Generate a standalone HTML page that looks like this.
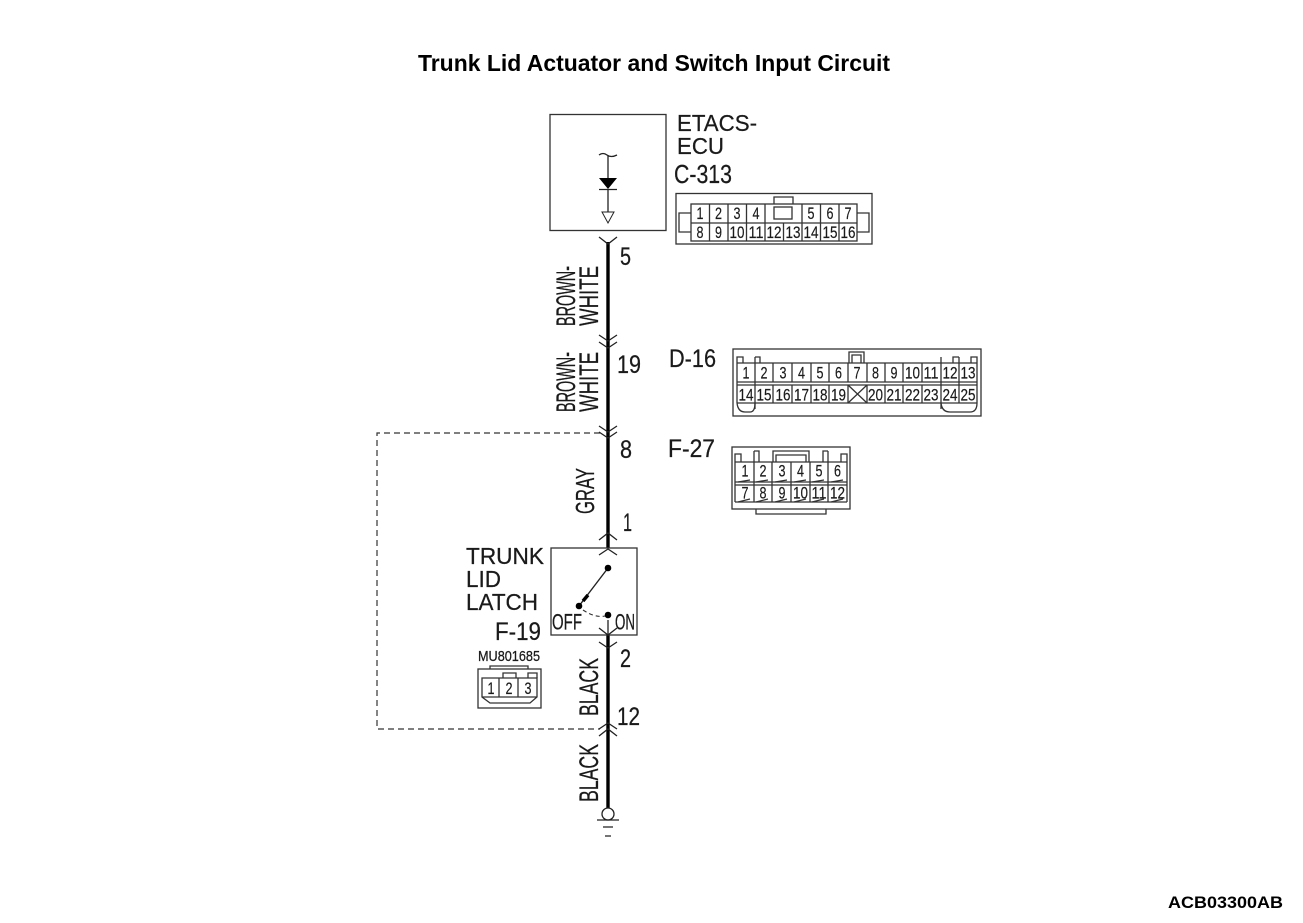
<!DOCTYPE html>
<html><head><meta charset="utf-8"><title>Trunk Lid Actuator and Switch Input Circuit</title>
<style>
html,body{margin:0;padding:0;background:#fff;width:1303px;height:923px;overflow:hidden}
svg{display:block}
text{font-family:"Liberation Sans",sans-serif;fill:#1a1a1a}
.t{stroke:#1a1a1a;stroke-width:.25}
.n{font-size:17px;text-anchor:middle;stroke:#1a1a1a;stroke-width:.2}
.l{fill:none;stroke:#333;stroke-width:1.3}
.c{fill:none;stroke:#222;stroke-width:1.3}
</style></head><body>
<svg width="1303" height="923" viewBox="0 0 1303 923" xmlns="http://www.w3.org/2000/svg">
<rect width="1303" height="923" fill="#fff"/>
<text x="418" y="71" font-size="23" font-weight="bold" textLength="472" lengthAdjust="spacingAndGlyphs" style="fill:#000">Trunk Lid Actuator and Switch Input Circuit</text>
<text x="1168" y="908" font-size="17" font-weight="bold" textLength="115" lengthAdjust="spacingAndGlyphs" style="fill:#000">ACB03300AB</text>

<!-- dashed box -->
<path d="M600 433H377V729H600" fill="none" stroke="#333" stroke-width="1.2" stroke-dasharray="6 4"/>

<!-- main wire -->
<line x1="608" y1="242" x2="608" y2="808" stroke="#000" stroke-width="3.4"/>
<circle cx="608" cy="814" r="6" fill="#fff" stroke="#222" stroke-width="1.3"/>
<path d="M597 820H619M603 827H613M605 836H611" class="c"/>

<!-- chevrons -->
<path d="M599 237L608 244L617 237M599 335L608 341L617 335M599 342L608 348L617 342M599 426L608 432L617 426M599 432L608 438L617 432M599 540L608 533L617 540M599 729L608 723L617 729M599 736L608 729L617 736M599 642L608 648L617 642" class="c"/>

<!-- ETACS box -->
<rect x="550" y="114.500" width="116" height="116" class="l"/>
<path d="M599 155Q603 152 607 155T617 155M608 155V178M608 190V212" class="c" stroke-width="1"/>
<path d="M599 178H617L608 189Z" fill="#000"/>
<path d="M599 189.500H617" class="c"/>
<path d="M602 212H614L608 223Z" fill="#fff" stroke="#222" stroke-width="1"/>
<text class="t" x="677" y="131" font-size="23" textLength="80" lengthAdjust="spacingAndGlyphs">ETACS-</text>
<text class="t" x="677" y="154" font-size="23" textLength="47" lengthAdjust="spacingAndGlyphs">ECU</text>
<text class="t" x="674" y="183" font-size="26" textLength="58" lengthAdjust="spacingAndGlyphs">C-313</text>

<!-- C-313 connector -->
<rect x="676" y="193.500" width="196" height="50.500" class="l"/>
<rect x="691" y="204" width="166" height="37" class="l"/>
<path d="M691 223H857M709.500 204V241M728 204V241M746.500 204V241M765 204V241M783.500 223V241M802 204V241M820.500 204V241M839 204V241" class="l"/>
<path d="M691 213H679V232H691M857 213H869V232H857M774 204V197H793V204" class="l"/>
<rect x="774" y="207" width="18" height="12" class="l"/>
<text class="n" x="700" y="219" textLength="7" lengthAdjust="spacingAndGlyphs">1</text>
<text class="n" x="718.500" y="219" textLength="7" lengthAdjust="spacingAndGlyphs">2</text>
<text class="n" x="737" y="219" textLength="7" lengthAdjust="spacingAndGlyphs">3</text>
<text class="n" x="756" y="219" textLength="7" lengthAdjust="spacingAndGlyphs">4</text>
<text class="n" x="811" y="219" textLength="7" lengthAdjust="spacingAndGlyphs">5</text>
<text class="n" x="830" y="219" textLength="7" lengthAdjust="spacingAndGlyphs">6</text>
<text class="n" x="848" y="219" textLength="7" lengthAdjust="spacingAndGlyphs">7</text>
<text class="n" x="700" y="238" textLength="7" lengthAdjust="spacingAndGlyphs">8</text>
<text class="n" x="718.500" y="238" textLength="7" lengthAdjust="spacingAndGlyphs">9</text>
<text class="n" x="737" y="238" textLength="15" lengthAdjust="spacingAndGlyphs">10</text>
<text class="n" x="756" y="238" textLength="15" lengthAdjust="spacingAndGlyphs">11</text>
<text class="n" x="774" y="238" textLength="15" lengthAdjust="spacingAndGlyphs">12</text>
<text class="n" x="793" y="238" textLength="15" lengthAdjust="spacingAndGlyphs">13</text>
<text class="n" x="811" y="238" textLength="15" lengthAdjust="spacingAndGlyphs">14</text>
<text class="n" x="830" y="238" textLength="15" lengthAdjust="spacingAndGlyphs">15</text>
<text class="n" x="848" y="238" textLength="15" lengthAdjust="spacingAndGlyphs">16</text>

<!-- wire labels -->
<text class="t" x="620" y="265" font-size="25" textLength="11" lengthAdjust="spacingAndGlyphs">5</text>
<text class="t" x="617" y="373" font-size="25" textLength="24" lengthAdjust="spacingAndGlyphs">19</text>
<text class="t" x="620" y="458" font-size="25" textLength="12" lengthAdjust="spacingAndGlyphs">8</text>
<text class="t" x="623" y="531" font-size="25" textLength="9" lengthAdjust="spacingAndGlyphs">1</text>
<text class="t" x="620" y="667" font-size="25" textLength="11" lengthAdjust="spacingAndGlyphs">2</text>
<text class="t" x="617" y="725" font-size="25" textLength="23" lengthAdjust="spacingAndGlyphs">12</text>
<text class="t" transform="translate(575,326) rotate(-90)" font-size="27" textLength="60" lengthAdjust="spacingAndGlyphs">BROWN-</text>
<text class="t" transform="translate(598,326) rotate(-90)" font-size="27" textLength="60" lengthAdjust="spacingAndGlyphs">WHITE</text>
<text class="t" transform="translate(575,412) rotate(-90)" font-size="27" textLength="60" lengthAdjust="spacingAndGlyphs">BROWN-</text>
<text class="t" transform="translate(598,412) rotate(-90)" font-size="27" textLength="60" lengthAdjust="spacingAndGlyphs">WHITE</text>
<text class="t" transform="translate(594,514) rotate(-90)" font-size="26" textLength="46" lengthAdjust="spacingAndGlyphs">GRAY</text>
<text class="t" transform="translate(598,716) rotate(-90)" font-size="27" textLength="58" lengthAdjust="spacingAndGlyphs">BLACK</text>
<text class="t" transform="translate(598,802) rotate(-90)" font-size="27" textLength="58" lengthAdjust="spacingAndGlyphs">BLACK</text>

<!-- D-16 -->
<text class="t" x="669" y="367" font-size="25" textLength="47" lengthAdjust="spacingAndGlyphs">D-16</text>
<rect x="733" y="349" width="248" height="67" class="l"/>
<path d="M737 363H977M737 382H977M737 385H977M737 363V403M977 363V403M737 403H977" class="l"/>
<path d="M755 357V409M773 363V382M792 363V382M811 363V382M829 363V382M848 363V382M867 363V382M885 363V382M903 363V382M922 363V382M941 357V409M959 357V403M773 385V403M792 385V403M811 385V403M829 385V403M848 385V403M867 385V403M885 385V403M903 385V403M922 385V403" class="l"/>
<path d="M737 363V357H743V363M755 357H760V363M953 363V357H959M971 363V357H977V363M849 363V352H864V363M852 363V355H861V363" class="l"/>
<path d="M848 385L867 403M867 385L848 403" class="l"/>
<path d="M737 403Q738 412 745 412H750Q755 412 755 403M941 403Q942 412 950 412H970Q977 412 977 403" class="l"/>
<text class="n" x="746" y="378.500" textLength="7" lengthAdjust="spacingAndGlyphs">1</text>
<text class="n" x="764" y="378.500" textLength="7" lengthAdjust="spacingAndGlyphs">2</text>
<text class="n" x="783" y="378.500" textLength="7" lengthAdjust="spacingAndGlyphs">3</text>
<text class="n" x="801.500" y="378.500" textLength="7" lengthAdjust="spacingAndGlyphs">4</text>
<text class="n" x="820" y="378.500" textLength="7" lengthAdjust="spacingAndGlyphs">5</text>
<text class="n" x="838.500" y="378.500" textLength="7" lengthAdjust="spacingAndGlyphs">6</text>
<text class="n" x="857" y="378.500" textLength="7" lengthAdjust="spacingAndGlyphs">7</text>
<text class="n" x="875.500" y="378.500" textLength="7" lengthAdjust="spacingAndGlyphs">8</text>
<text class="n" x="894" y="378.500" textLength="7" lengthAdjust="spacingAndGlyphs">9</text>
<text class="n" x="912.500" y="378.500" textLength="15" lengthAdjust="spacingAndGlyphs">10</text>
<text class="n" x="931" y="378.500" textLength="15" lengthAdjust="spacingAndGlyphs">11</text>
<text class="n" x="950" y="378.500" textLength="15" lengthAdjust="spacingAndGlyphs">12</text>
<text class="n" x="968" y="378.500" textLength="15" lengthAdjust="spacingAndGlyphs">13</text>
<text class="n" x="746" y="400.500" textLength="15" lengthAdjust="spacingAndGlyphs">14</text>
<text class="n" x="764" y="400.500" textLength="15" lengthAdjust="spacingAndGlyphs">15</text>
<text class="n" x="783" y="400.500" textLength="15" lengthAdjust="spacingAndGlyphs">16</text>
<text class="n" x="801.500" y="400.500" textLength="15" lengthAdjust="spacingAndGlyphs">17</text>
<text class="n" x="820" y="400.500" textLength="15" lengthAdjust="spacingAndGlyphs">18</text>
<text class="n" x="838.500" y="400.500" textLength="15" lengthAdjust="spacingAndGlyphs">19</text>
<text class="n" x="875.500" y="400.500" textLength="15" lengthAdjust="spacingAndGlyphs">20</text>
<text class="n" x="894" y="400.500" textLength="15" lengthAdjust="spacingAndGlyphs">21</text>
<text class="n" x="912.500" y="400.500" textLength="15" lengthAdjust="spacingAndGlyphs">22</text>
<text class="n" x="931" y="400.500" textLength="15" lengthAdjust="spacingAndGlyphs">23</text>
<text class="n" x="950" y="400.500" textLength="15" lengthAdjust="spacingAndGlyphs">24</text>
<text class="n" x="968" y="400.500" textLength="15" lengthAdjust="spacingAndGlyphs">25</text>

<!-- F-27 -->
<text class="t" x="668" y="457" font-size="25" textLength="47" lengthAdjust="spacingAndGlyphs">F-27</text>
<rect x="732" y="447" width="118" height="62" class="l"/>
<path d="M735 462H847M735 482H847M735 485H847M735 502H847M735 462V502M847 462V502M754 451V502M772 462V502M791 462V502M810 462V502M828 451V502" class="l"/>
<path d="M735 462V454H741V462M754 451H759V462M823 462V451H828M841 462V454H847V462M773 462V451H809V462M776 462V455H806V462" class="l"/>
<path d="M756 509V514H826V509" class="l"/>
<path d="M738 482L750 480M756 482L768 480M775 482L787 480M794 482L806 480M812 482L824 480M831 482L843 480M738 502L750 499M756 502L768 499M775 502L787 499M794 502L806 499M812 502L824 499M831 502L843 499" class="l" stroke-width="1"/>
<text class="n" x="745" y="476.500" textLength="7" lengthAdjust="spacingAndGlyphs">1</text>
<text class="n" x="763" y="476.500" textLength="7" lengthAdjust="spacingAndGlyphs">2</text>
<text class="n" x="782" y="476.500" textLength="7" lengthAdjust="spacingAndGlyphs">3</text>
<text class="n" x="800.500" y="476.500" textLength="7" lengthAdjust="spacingAndGlyphs">4</text>
<text class="n" x="819" y="476.500" textLength="7" lengthAdjust="spacingAndGlyphs">5</text>
<text class="n" x="837.500" y="476.500" textLength="7" lengthAdjust="spacingAndGlyphs">6</text>
<text class="n" x="745" y="498.500" textLength="7" lengthAdjust="spacingAndGlyphs">7</text>
<text class="n" x="763" y="498.500" textLength="7" lengthAdjust="spacingAndGlyphs">8</text>
<text class="n" x="782" y="498.500" textLength="7" lengthAdjust="spacingAndGlyphs">9</text>
<text class="n" x="800.500" y="498.500" textLength="15" lengthAdjust="spacingAndGlyphs">10</text>
<text class="n" x="819" y="498.500" textLength="15" lengthAdjust="spacingAndGlyphs">11</text>
<text class="n" x="837.500" y="498.500" textLength="15" lengthAdjust="spacingAndGlyphs">12</text>

<!-- Switch -->
<rect x="551" y="548" width="86" height="87" fill="#fff" stroke="#333" stroke-width="1.3"/>
<path d="M599 555L608 549L617 555M599 628L608 635L617 628" class="c"/>
<line x1="608" y1="620" x2="608" y2="635" stroke="#222" stroke-width="1.3"/>
<line x1="608" y1="568" x2="579" y2="606" stroke="#222" stroke-width="1.4"/>
<line x1="588" y1="595" x2="583" y2="601" stroke="#000" stroke-width="3.5"/>
<circle cx="608" cy="568" r="3.300" fill="#000"/>
<circle cx="579" cy="606" r="3.300" fill="#000"/>
<circle cx="608" cy="615" r="3.300" fill="#000"/>
<path d="M583 610Q595 618 605 616" fill="none" stroke="#333" stroke-width="1.1" stroke-dasharray="4 3"/>
<text class="t" x="552" y="629.500" font-size="22" textLength="30" lengthAdjust="spacingAndGlyphs">OFF</text>
<text class="t" x="615" y="629.500" font-size="22" textLength="20" lengthAdjust="spacingAndGlyphs">ON</text>
<text class="t" x="466" y="564" font-size="23" textLength="78" lengthAdjust="spacingAndGlyphs">TRUNK</text>
<text class="t" x="466" y="587" font-size="23" textLength="35" lengthAdjust="spacingAndGlyphs">LID</text>
<text class="t" x="466" y="610" font-size="23" textLength="72" lengthAdjust="spacingAndGlyphs">LATCH</text>
<text class="t" x="495" y="640" font-size="25" textLength="46" lengthAdjust="spacingAndGlyphs">F-19</text>

<!-- F-19 connector -->
<text class="t" x="478" y="661" font-size="15" textLength="62" lengthAdjust="spacingAndGlyphs">MU801685</text>
<rect x="478" y="669" width="63" height="39" class="l"/>
<path d="M490 669V666H528V669" class="l"/>
<path d="M482 678H537V697L530 703H490L482 697ZM482 697H537M499 678V697M518 678V697" class="l"/>
<path d="M503 678V673H516V678M528 678V673H537V678" class="l"/>
<text class="n" x="491" y="694" textLength="7" lengthAdjust="spacingAndGlyphs">1</text>
<text class="n" x="509" y="694" textLength="7" lengthAdjust="spacingAndGlyphs">2</text>
<text class="n" x="528" y="694" textLength="7" lengthAdjust="spacingAndGlyphs">3</text>
</svg>
</body></html>
